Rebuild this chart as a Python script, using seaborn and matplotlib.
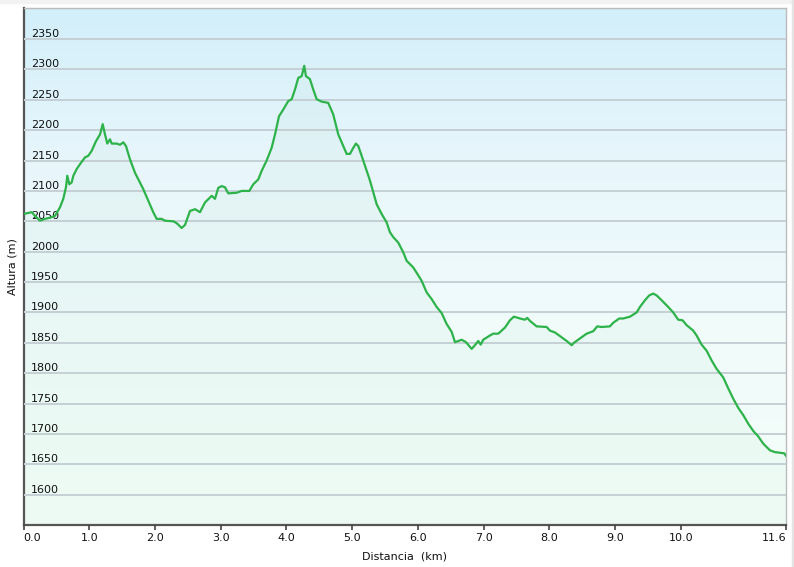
import numpy as np
import pandas as pd
import matplotlib
matplotlib.use("Agg")
import matplotlib.pyplot as plt
import seaborn as sns
from matplotlib.colors import LinearSegmentedColormap
from matplotlib.patches import Rectangle

# perfil: distancia (km) y altura (m)
distancia = [
    0.00, 0.125, 0.175, 0.251, 0.327, 0.403, 0.479, 0.555, 0.605, 0.646,
    0.666, 0.697, 0.733, 0.758, 0.809, 0.859, 0.934, 0.986, 1.037, 1.103,
    1.164, 1.205, 1.240, 1.275, 1.316, 1.342, 1.418, 1.468, 1.518, 1.559,
    1.620, 1.696, 1.822, 1.898, 1.974, 2.026, 2.102, 2.152, 2.279, 2.330,
    2.406, 2.457, 2.533, 2.609, 2.685, 2.761, 2.863, 2.913, 2.963, 3.015,
    3.065, 3.115, 3.243, 3.319, 3.435, 3.496, 3.572, 3.623, 3.699, 3.775,
    3.826, 3.887, 3.952, 4.028, 4.080, 4.130, 4.180, 4.232, 4.271, 4.297,
    4.358, 4.408, 4.460, 4.536, 4.636, 4.712, 4.789, 4.916, 4.967, 5.017,
    5.058, 5.093, 5.169, 5.271, 5.373, 5.449, 5.525, 5.575, 5.625, 5.701,
    5.777, 5.829, 5.929, 6.006, 6.057, 6.133, 6.209, 6.285, 6.361, 6.437,
    6.514, 6.564, 6.666, 6.731, 6.818, 6.868, 6.918, 6.955, 6.994, 7.096,
    7.146, 7.222, 7.324, 7.400, 7.461, 7.553, 7.628, 7.664, 7.705, 7.807,
    7.959, 8.009, 8.085, 8.187, 8.263, 8.339, 8.374, 8.465, 8.567, 8.667,
    8.728, 8.795, 8.921, 8.972, 9.063, 9.124, 9.226, 9.328, 9.378, 9.454,
    9.519, 9.580, 9.632, 9.708, 9.808, 9.884, 9.960, 10.027, 10.088, 10.189,
    10.240, 10.316, 10.392, 10.468, 10.545, 10.645, 10.721, 10.797, 10.873, 10.949,
    11.025, 11.101, 11.177, 11.253, 11.355, 11.431, 11.507, 11.573, 11.600,
]
altura = [
    2062, 2065, 2059, 2051, 2054, 2056, 2059, 2073, 2087, 2106,
    2125, 2111, 2114, 2125, 2136, 2144, 2155, 2158, 2166, 2182,
    2193, 2210, 2193, 2178, 2185, 2178, 2178, 2176, 2180, 2174,
    2152, 2130, 2103, 2084, 2065, 2054, 2054, 2051, 2050, 2047,
    2039, 2044, 2067, 2070, 2065, 2081, 2092, 2087, 2105, 2108,
    2106, 2096, 2097, 2100, 2100, 2111, 2119, 2133, 2150, 2171,
    2193, 2223, 2234, 2248, 2251, 2267, 2286, 2289, 2306, 2289,
    2284, 2267, 2251, 2247, 2245, 2226, 2193, 2161, 2161, 2171,
    2178, 2174, 2150, 2117, 2078, 2062, 2048, 2032, 2024, 2015,
    1999, 1985, 1974, 1961, 1952, 1933, 1922, 1909, 1899, 1881,
    1868, 1851, 1855, 1851, 1840, 1846, 1853, 1847, 1855, 1862,
    1865, 1865, 1875, 1887, 1893, 1890, 1888, 1891, 1886, 1877,
    1876, 1870, 1867, 1859, 1853, 1846, 1850, 1857, 1865, 1869,
    1877, 1876, 1877, 1883, 1890, 1890, 1893, 1900, 1909, 1920,
    1928, 1931, 1928, 1920, 1909, 1900, 1888, 1887, 1879, 1870,
    1862, 1847, 1837, 1821, 1807, 1793, 1775, 1758, 1743, 1731,
    1717, 1705, 1696, 1684, 1673, 1670, 1669, 1668, 1664,
]
y_ticks = list(range(1600, 2351, 50))
x_ticks = [0.0, 1.0, 2.0, 3.0, 4.0, 5.0, 6.0, 7.0, 8.0, 9.0, 10.0, 11.6]
x_labels = ["0.0", "1.0", "2.0", "3.0", "4.0", "5.0", "6.0", "7.0", "8.0", "9.0", "10.0", "11.6"]

df = pd.DataFrame({"km": distancia, "alt": altura})
LINE = "#2db34a"

fig = plt.figure(figsize=(7.94, 5.67), dpi=100)
fig.patch.set_facecolor("white")
ax = fig.add_axes([23.5 / 794, 42 / 567, 762.5 / 794, 517.5 / 567])
x0, x1, y0, y1 = 0.0, 11.6, 1550, 2402

# fondo degradado azul -> verde
cmap = LinearSegmentedColormap.from_list(
    "bg", [(0.0, "#f4fef9"), (0.4, "#f0fbfb"), (0.7, "#e8f6fc"), (1.0, "#d2effa")])
grad = np.linspace(0, 1, 256).reshape(-1, 1)
ax.imshow(grad, cmap=cmap, aspect="auto", origin="lower",
          extent=[x0, x1, y0, y1], zorder=0)

ax.fill_between(df["km"], df["alt"], y0, color=LINE, alpha=0.03, linewidth=0, zorder=1)
sns.lineplot(data=df, x="km", y="alt", ax=ax, color=LINE, linewidth=1.6, zorder=3)

ax.set_xlim(x0, x1)
ax.set_ylim(y0, y1)

ax.set_yticks(y_ticks)
ax.set_yticklabels([str(v) for v in y_ticks])
ax.grid(axis="y", color="#c4d0d4", linewidth=1.4, zorder=2)
ax.grid(axis="x", visible=False)
ax.set_axisbelow(False)
ax.tick_params(axis="y", length=0, pad=-5.6, labelsize=8, labelcolor="#111111")
for lbl in ax.get_yticklabels():
    lbl.set_horizontalalignment("left")
    lbl.set_verticalalignment("bottom")

ax.set_xticks(x_ticks)
ax.set_xticklabels(x_labels)
ax.tick_params(axis="x", length=3.6, width=1.2, color="#444444", pad=2,
               labelsize=8, labelcolor="#111111")
xl = ax.get_xticklabels()
xl[0].set_horizontalalignment("left")
xl[-1].set_horizontalalignment("right")

for side in ["left", "bottom"]:
    ax.spines[side].set_color("#555555")
    ax.spines[side].set_linewidth(1.6)
for side in ["top", "right"]:
    ax.spines[side].set_color("#bbbbbb")
    ax.spines[side].set_linewidth(1.0)

ax.set_ylabel("Altura (m)", fontsize=8, color="#111111")
ax.yaxis.set_label_coords(-0.0075, 0.5)
ax.set_xlabel("Distancia  (km)", fontsize=8, color="#111111", labelpad=6)

# bordes claros de la captura
fig.add_artist(Rectangle((0, 1 - 3 / 567), 1, 3 / 567, transform=fig.transFigure,
                         color="#f2f2f2", zorder=-1))
fig.add_artist(Rectangle((1 - 2 / 794, 0), 2 / 794, 1, transform=fig.transFigure,
                         color="#e4e4e4", zorder=-1))

fig.savefig("out.png", dpi=100)
